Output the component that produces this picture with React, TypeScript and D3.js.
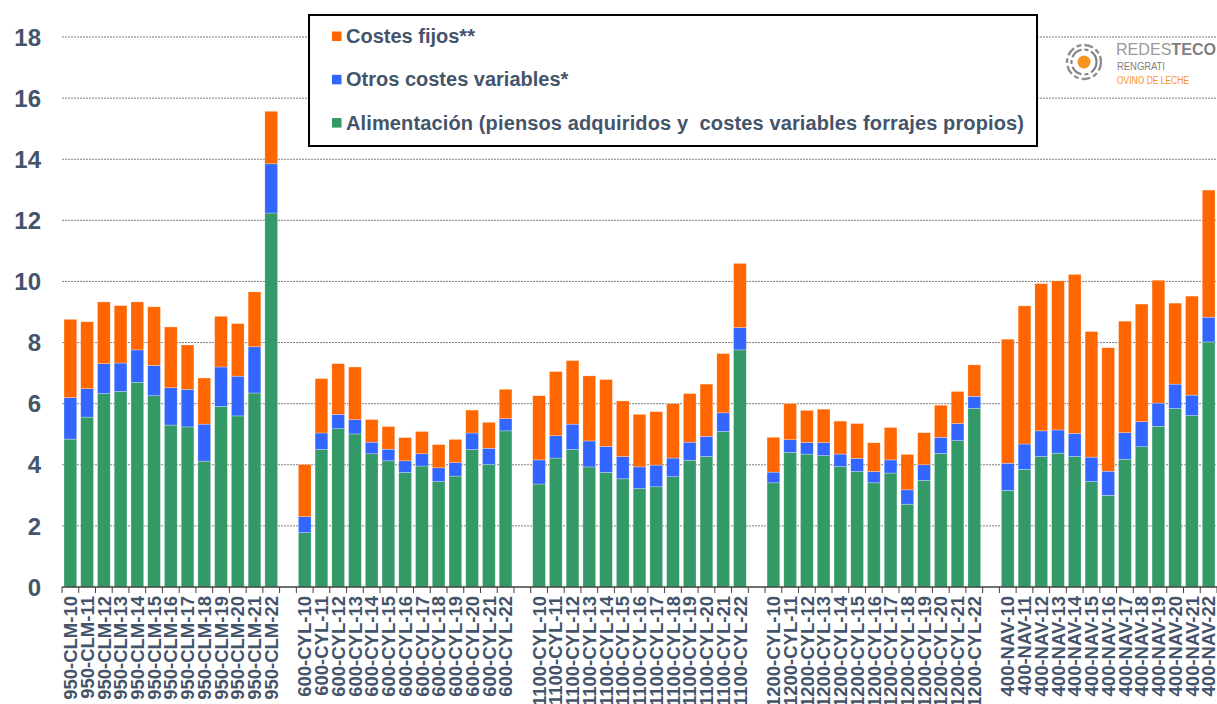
import * as d3 from 'd3';

const width = 1217;
const height = 704;
const marginLeft = 62;
const plotRight = 1217;
const yTopPx = 37;
const yZeroPx = 587;

const font = '"Liberation Sans", Arial, sans-serif';
const textColor = '#44546A';

// explotaciones y años
const groups = ['950-CLM', '600-CYL', '1100-CYL', '1200-CYL', '400-NAV'];
const years = ['10', '11', '12', '13', '14', '15', '16', '17', '18', '19', '20', '21', '22'];

// valores, por grupo (13 años cada uno)
const alimentacion = [
  4.84, 5.56, 6.33, 6.4, 6.7, 6.26, 5.3, 5.24, 4.12, 5.91, 5.6, 6.35, 12.24,
  1.78, 4.5, 5.18, 5.01, 4.36, 4.13, 3.75, 3.96, 3.45, 3.63, 4.5, 4.01, 5.11,
  3.37, 4.22, 4.5, 3.93, 3.75, 3.54, 3.22, 3.28, 3.61, 4.15, 4.27, 5.09, 7.76,
  3.41, 4.41, 4.35, 4.3, 3.94, 3.78, 3.41, 3.73, 2.71, 3.49, 4.37, 4.79, 5.85,
  3.16, 3.85, 4.27, 4.38, 4.27, 3.45, 3.0, 4.18, 4.59, 5.26, 5.84, 5.61, 8.02,
];
const otrosVariables = [
  1.36, 0.93, 0.98, 0.93, 1.06, 0.99, 1.22, 1.23, 1.21, 1.29, 1.3, 1.51, 1.61,
  0.52, 0.54, 0.47, 0.47, 0.38, 0.38, 0.38, 0.4, 0.45, 0.44, 0.54, 0.53, 0.4,
  0.79, 0.73, 0.83, 0.85, 0.85, 0.73, 0.71, 0.71, 0.61, 0.59, 0.66, 0.61, 0.73,
  0.35, 0.41, 0.38, 0.43, 0.41, 0.43, 0.37, 0.43, 0.47, 0.51, 0.53, 0.56, 0.39,
  0.89, 0.83, 0.84, 0.76, 0.76, 0.8, 0.79, 0.87, 0.82, 0.76, 0.8, 0.67, 0.81,
];
const costesFijos = [
  2.56, 2.19, 2.02, 1.88, 1.57, 1.92, 1.99, 1.45, 1.51, 1.66, 1.72, 1.8, 1.72,
  1.71, 1.78, 1.66, 1.72, 0.74, 0.74, 0.76, 0.73, 0.76, 0.76, 0.75, 0.85, 0.96,
  2.1, 2.1, 2.08, 2.13, 2.19, 1.82, 1.72, 1.75, 1.78, 1.59, 1.71, 1.94, 2.1,
  1.14, 1.18, 1.05, 1.09, 1.08, 1.14, 0.94, 1.06, 1.16, 1.05, 1.05, 1.05, 1.03,
  4.06, 4.52, 4.82, 4.88, 5.2, 4.11, 4.04, 3.65, 3.85, 4.02, 2.65, 3.24, 4.16,
];

const yTicks = [0, 2, 4, 6, 8, 10, 12, 14, 16, 18];

const seriesKeys = ['alim', 'otros', 'fijos'];
const seriesColors: Record<string, string> = {
  alim: '#339966',
  otros: '#3366FF',
  fijos: '#FF6600',
};
const legendItems = [
  { key: 'fijos', label: 'Costes fijos**' },
  { key: 'otros', label: 'Otros costes variables*' },
  { key: 'alim', label: 'Alimentación (piensos adquiridos y  costes variables forrajes propios)', len: 678 },
];

type Row = { cat: string; label: string; alim: number; otros: number; fijos: number };

// categorías con un hueco vacío entre grupos
const slots: string[] = [];
const rows: Row[] = [];
groups.forEach((g, gi) => {
  years.forEach((yr, yi) => {
    const i = gi * years.length + yi;
    const label = `${g}-${yr}`;
    slots.push(label);
    rows.push({ cat: label, label, alim: alimentacion[i], otros: otrosVariables[i], fijos: costesFijos[i] });
  });
  if (gi < groups.length - 1) slots.push(`gap-${gi}`);
});

const x = d3.scaleBand<string>().domain(slots).range([marginLeft, plotRight]).paddingInner(0.24).paddingOuter(0.12);
const y = d3.scaleLinear().domain([0, 18]).range([yZeroPx, yTopPx]);

const stacked = d3.stack<Row>().keys(seriesKeys)(rows);

const Logo = () => {
  const cx = 1084;
  const cy = 62;
  return (
    <g>
      <circle cx={cx} cy={cy} r={17} fill="none" stroke="#8f8f8f" strokeWidth={2.4} strokeDasharray="9 3 5 3" />
      <circle cx={cx} cy={cy} r={12.5} fill="none" stroke="#808080" strokeWidth={2.2} strokeDasharray="12 3 4 3" />
      <circle cx={cx} cy={cy} r={6.5} fill="#F7941D" />
      <text x={1116} y={55} fontFamily={font} fontSize={17} textLength={100} lengthAdjust="spacingAndGlyphs">
        <tspan fill="#9a9a9a">REDES</tspan>
        <tspan fill="#7f7f7f" fontWeight="bold">TECO</tspan>
      </text>
      <text x={1117} y={70} fontFamily={font} fontSize={11.5} fill="#7f7f7f" textLength={48} lengthAdjust="spacingAndGlyphs">
        RENGRATI
      </text>
      <text x={1117} y={84} fontFamily={font} fontSize={10} fill="#F7941D" textLength={72} lengthAdjust="spacingAndGlyphs">
        OVINO DE LECHE
      </text>
    </g>
  );
};

export default function App() {
  const step = x.step();
  const tickXs = d3.range(slots.length + 1).map((k) => marginLeft + k * step);
  return (
    <svg width={width} height={height} style={{ position: 'absolute', left: 0, top: 0, background: '#fff' }}>
      {/* grid */}
      {yTicks
        .filter((t) => t > 0)
        .map((t) => (
          <line key={t} x1={marginLeft} x2={plotRight} y1={y(t)} y2={y(t)} stroke="#7f7f7f" strokeWidth={1} strokeDasharray="2 1" />
        ))}
      {/* y labels */}
      {yTicks.map((t) => (
        <text key={t} x={41} y={y(t)} dy="0.36em" textAnchor="end" fontFamily={font} fontWeight="bold" fontSize={24} fill={textColor}>
          {t}
        </text>
      ))}
      {/* bars */}
      {stacked.map((s) => (
        <g key={s.key} fill={seriesColors[s.key]}>
          {s.map((d) => (
            <rect
              key={d.data.cat}
              x={x(d.data.cat)}
              y={y(d[1])}
              width={x.bandwidth()}
              height={y(d[0]) - y(d[1])}
              stroke="#ffffff"
              strokeOpacity={0.45}
              strokeWidth={0.6}
            />
          ))}
        </g>
      ))}
      {/* x axis */}
      <line x1={marginLeft} x2={plotRight} y1={yZeroPx} y2={yZeroPx} stroke="#404040" strokeWidth={1.5} />
      {tickXs.map((tx, i) => (
        <line key={i} x1={tx} x2={tx} y1={yZeroPx} y2={yZeroPx + 6} stroke="#404040" strokeWidth={1} />
      ))}
      {rows.map((r) => (
        <text
          key={r.cat}
          transform={`translate(${(x(r.cat) ?? 0) + x.bandwidth() / 2},596) rotate(-90)`}
          dy="0.36em"
          textAnchor="end"
          fontFamily={font}
          fontWeight="bold"
          fontSize={18.5}
          fill={textColor}
        >
          {r.label}
        </text>
      ))}
      {/* legend */}
      <rect x={309} y={15} width={728} height={131} fill="#fff" stroke="#000" strokeWidth={2} />
      {legendItems.map((it, i) => (
        <g key={it.key} transform={`translate(0,${43 + i * 43.3})`}>
          <rect x={332} y={-11.5} width={9.5} height={9.5} fill={seriesColors[it.key]} />
          <text
            x={346}
            y={0}
            fontFamily={font}
            fontWeight="bold"
            fontSize={20}
            fill={textColor}
            style={{ whiteSpace: 'pre' }}
            textLength={it.len}
            lengthAdjust="spacing"
          >
            {it.label}
          </text>
        </g>
      ))}
      <Logo />
    </svg>
  );
}
